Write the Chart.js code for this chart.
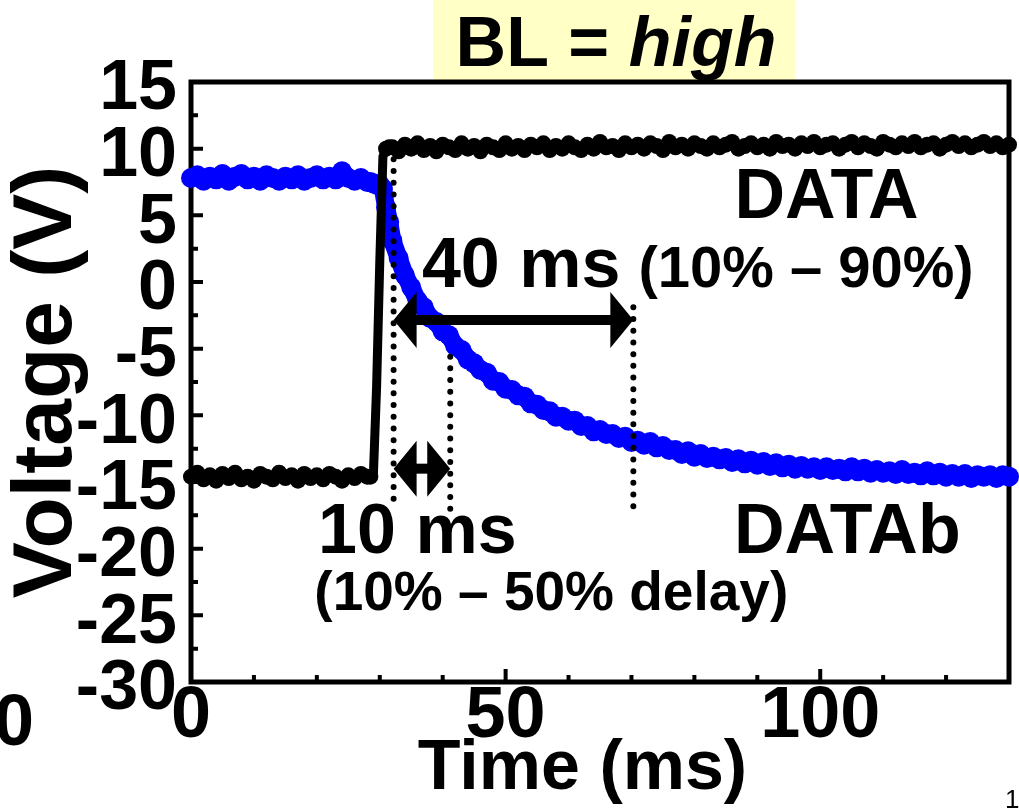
<!DOCTYPE html>
<html>
<head>
<meta charset="utf-8">
<script src="https://cdn.jsdelivr.net/npm/chart.js@4.4.1/dist/chart.umd.min.js"></script>
<style>
  html, body { margin: 0; padding: 0; background: #fff; }
  #wrap { width: 1019px; height: 812px; position: relative; }
</style>
</head>
<body>
<div id="wrap"><canvas id="scope"></canvas></div>
<script>
// sample times (ms)
const timeMs = [
  0, 1, 2, 3, 4, 5, 6, 7, 8, 9, 10, 11, 12, 13, 14, 15, 16, 17, 18, 19, 20, 21, 22, 23, 24, 25, 26, 27, 28,
  28.5, 29, 29.5, 30, 30.5, 31, 31.5,
  32, 33, 34, 35, 36, 37, 38, 39, 40, 41, 42, 43, 44, 45, 46, 47, 48, 49, 50, 51,
  52, 53, 54, 55, 56, 57, 58, 59, 60, 61, 62, 63, 64, 65, 66, 67, 68, 69, 70, 71,
  72, 73, 74, 75, 76, 77, 78, 79, 80, 81, 82, 83, 84, 85, 86, 87, 88, 89, 90, 91,
  92, 93, 94, 95, 96, 97, 98, 99, 100, 101, 102, 103, 104, 105, 106, 107, 108, 109, 110, 111,
  112, 113, 114, 115, 116, 117, 118, 119, 120, 121, 122, 123, 124, 125, 126, 127, 128, 129, 130
];

// DATA (black) voltage
const dataV = [
  -14.6, -14.3, -14.8, -14.5, -14.9, -14.4, -14.7, -14.3, -14.8, -14.6, -14.9, -14.4, -14.6, -14.8, -14.3,
  -14.7, -14.5, -14.9, -14.4, -14.7, -14.5, -14.8, -14.4, -14.6, -14.9, -14.5, -14.7, -14.4, -14.6,
  -14.6, -14.3, -7.8, 1.5, 9.4, 10.0, 10.1,
  10.1, 9.8, 10.3, 10.0, 10.4, 9.9, 10.2, 9.8, 10.3, 10.1,
  9.9, 10.4, 10.0, 10.2, 9.8, 10.3, 10.1, 9.9, 10.4, 10.0,
  10.2, 9.9, 10.3, 10.1, 10.4, 9.9, 10.2, 10.0, 10.4, 10.1,
  9.9, 10.3, 10.0, 10.5, 10.1, 10.2, 9.9, 10.4, 10.1, 10.3,
  10.0, 10.4, 10.2, 9.9, 10.5, 10.1, 10.3, 10.0, 10.4, 10.2,
  10.0, 10.4, 10.1, 10.3, 10.5, 10.0, 10.2, 10.4, 10.1, 10.3,
  10.0, 10.5, 10.2, 10.3, 10.0, 10.4, 10.2, 10.5, 10.1, 10.3,
  10.4, 10.0, 10.3, 10.5, 10.1, 10.4, 10.2, 10.0, 10.5, 10.3,
  10.1, 10.4, 10.2, 10.5, 10.1, 10.3, 10.4, 10.0, 10.3, 10.5,
  10.2, 10.4, 10.1, 10.3, 10.5, 10.2, 10.4, 10.1, 10.3
];

// DATAb (blue) voltage
const dataBV = [
  7.8, 8.0, 7.6, 7.9, 7.7, 8.1, 7.6, 7.9, 8.1, 7.7, 7.9, 7.6, 8.0, 7.8, 7.6,
  7.9, 7.7, 8.0, 7.6, 7.8, 8.0, 7.7, 7.9, 7.7, 8.3, 7.8, 7.6, 7.8, 7.5,
  7.5, 7.4, 7.3, 7.3, 7.0, 5.6, 4.5,
  3.1, 1.8, 0.5, -0.4, -1.4, -1.9, -2.7, -3.0, -3.7, -4.0,
  -4.8, -5.1, -5.8, -6.1, -6.6, -6.8, -7.4, -7.5, -8.0, -8.1,
  -8.5, -8.6, -9.1, -9.2, -9.6, -9.7, -10.1, -10.1, -10.4, -10.4,
  -10.8, -10.8, -11.2, -11.1, -11.4, -11.4, -11.7, -11.6, -12.0, -11.9,
  -12.2, -12.0, -12.4, -12.3, -12.6, -12.6, -12.9, -12.7, -13.1, -12.9,
  -13.2, -13.1, -13.3, -13.2, -13.5, -13.3, -13.6, -13.4, -13.7, -13.5,
  -13.8, -13.6, -13.9, -13.7, -14.0, -13.8, -14.0, -13.9, -14.1, -13.9,
  -14.1, -14.0, -14.2, -13.9, -14.2, -14.0, -14.3, -14.1, -14.3, -14.2,
  -14.4, -14.1, -14.4, -14.3, -14.5, -14.2, -14.5, -14.3, -14.6, -14.4,
  -14.6, -14.4, -14.7, -14.5, -14.6, -14.5, -14.7, -14.5, -14.6
];

// x tick labels shown on the time axis
const timeTickLabels = [0, 50, 100];

// annotation text: [text, x (ms), baseline (V), size, align]
const noteTexts = [
  ['DATA', 101, 4.8, 70, 'center'],
  ['40 ms', 36.7, -0.4, 70, 'left'],
  ['(10% \u2013 90%)', 71.1, -0.4, 58, 'left'],
  ['10 ms', 20.2, -20.3, 70, 'left'],
  ['(10% \u2013 50% delay)', 19.6, -24.6, 55, 'left'],
  ['DATAb', 104.3, -20.3, 70, 'center']
];
// dotted markers: [x (ms), from V, to V]
const dotLines = [[32.2, 9.2, -16.8], [41.2, -5.6, -17.3], [70.3, -1.9, -17.3]];
// double arrows: [from ms, to ms, at V]
const arrows = [[32.2, 70.3, -2.85], [32.2, 41.2, -14.0]];

const FONT = "'Liberation Sans', Arial, sans-serif";

function doubleArrow(ctx, x1, x2, y) {
  const hl = 23, hh = 28, sw = 10;
  ctx.fillStyle = '#000';
  ctx.fillRect(x1 + hl - 1, y - sw / 2, (x2 - x1) - 2 * hl + 2, sw);
  ctx.beginPath();
  ctx.moveTo(x1, y); ctx.lineTo(x1 + hl, y - hh); ctx.lineTo(x1 + hl, y + hh); ctx.closePath();
  ctx.moveTo(x2, y); ctx.lineTo(x2 - hl, y - hh); ctx.lineTo(x2 - hl, y + hh); ctx.closePath();
  ctx.fill();
}

const scopeDecor = {
  id: 'scopeDecor',
  beforeDraw(chart) {
    const ctx = chart.ctx;
    ctx.save();
    ctx.fillStyle = '#fff';
    ctx.fillRect(0, 0, chart.width, chart.height);
    // title box
    ctx.fillStyle = '#FFFFC6';
    ctx.fillRect(433, 0, 362, 84);
    ctx.fillStyle = '#000';
    ctx.textBaseline = 'alphabetic';
    ctx.textAlign = 'left';
    const a = 'BL = ', b = 'high';
    ctx.font = 'bold 70px ' + FONT;
    const wa = ctx.measureText(a).width;
    ctx.font = 'italic bold 70px ' + FONT;
    const wb = ctx.measureText(b).width;
    const x0 = 616 - (wa + wb) / 2;
    ctx.font = 'bold 70px ' + FONT;
    ctx.fillText(a, x0, 66);
    ctx.font = 'italic bold 70px ' + FONT;
    ctx.fillText(b, x0 + wa, 66);
    ctx.restore();
  },
  beforeDatasetsDraw(chart) {
    const {ctx, chartArea: ca, scales: {x, y}} = chart;
    ctx.save();
    ctx.strokeStyle = '#000';
    ctx.lineWidth = 4;
    ctx.beginPath();
    for (let v = -30; v <= 15; v += 2.5) {
      const py = y.getPixelForValue(v);
      const len = (v % 5 === 0) ? 12 : 7;
      ctx.moveTo(ca.left, py); ctx.lineTo(ca.left + len, py);
    }
    for (let t = 10; t < 130; t += 10) {
      const px = x.getPixelForValue(t);
      const len = (t % 50 === 0) ? 13 : 7;
      ctx.moveTo(px, ca.bottom); ctx.lineTo(px, ca.bottom - len);
    }
    ctx.stroke();
    ctx.lineWidth = 5;
    ctx.strokeRect(ca.left, ca.top, ca.right - ca.left, ca.bottom - ca.top);
    ctx.restore();
  },
  afterDatasetsDraw(chart) {
    const {ctx, scales: {x, y}} = chart;
    ctx.save();
    // dotted guides
    ctx.strokeStyle = '#000';
    ctx.lineWidth = 6;
    ctx.lineCap = 'round';
    ctx.setLineDash([0, 11.7]);
    dotLines.forEach(([t, v1, v2]) => {
      const px = x.getPixelForValue(t);
      ctx.beginPath();
      ctx.moveTo(px, y.getPixelForValue(v1));
      ctx.lineTo(px, y.getPixelForValue(v2));
      ctx.stroke();
    });
    ctx.setLineDash([]);
    arrows.forEach(([t1, t2, v]) => {
      doubleArrow(ctx, x.getPixelForValue(t1), x.getPixelForValue(t2), y.getPixelForValue(v));
    });
    ctx.fillStyle = '#000';
    ctx.textBaseline = 'alphabetic';
    noteTexts.forEach(([txt, t, v, size, align]) => {
      ctx.font = 'bold ' + size + 'px ' + FONT;
      ctx.textAlign = align;
      ctx.fillText(txt, x.getPixelForValue(t), y.getPixelForValue(v));
    });
    ctx.restore();
  },
  afterDraw(chart) {
    const ctx = chart.ctx;
    ctx.save();
    // neighbouring panel remnants
    ctx.fillStyle = '#000';
    ctx.textAlign = 'left';
    ctx.textBaseline = 'alphabetic';
    ctx.font = 'bold 72px ' + FONT;
    ctx.fillText('0', -6, 745);
    ctx.font = '26px ' + FONT;
    ctx.fillText('1', 1005, 808);
    ctx.restore();
  }
};

// keep the rising edge of DATA clean (no sample blobs, thinner stroke)
const onEdge = (t) => t >= 29 && t <= 30.5;
const edgeRadius = (c, r) => (onEdge(timeMs[c.dataIndex]) ? 0 : r);

const ctx = document.getElementById('scope').getContext('2d');
new Chart(ctx, {
  type: 'line',
  data: {
    datasets: [
      {
        label: 'DATA',
        data: timeMs.map((t, i) => ({x: t, y: dataV[i]})),
        borderColor: '#000',
        backgroundColor: '#000',
        borderWidth: 12,
        segment: {
          borderWidth: (s) => (timeMs[s.p0DataIndex] >= 28.5 && timeMs[s.p1DataIndex] <= 31 ? 9 : 12)
        },
        pointRadius: (c) => edgeRadius(c, 8),
        pointBorderWidth: 0,
        pointHoverRadius: 0,
        borderJoinStyle: 'round',
        borderCapStyle: 'round',
        clip: false,
        order: 1
      },
      {
        label: 'DATAb',
        data: timeMs.map((t, i) => ({x: t, y: dataBV[i]})),
        borderColor: '#0000ff',
        backgroundColor: '#0000ff',
        borderWidth: 18,
        pointRadius: 10,
        pointBorderWidth: 0,
        pointHoverRadius: 0,
        borderJoinStyle: 'round',
        borderCapStyle: 'round',
        clip: false,
        order: 2
      }
    ]
  },
  plugins: [scopeDecor],
  options: {
    responsive: true,
    maintainAspectRatio: false,
    animation: false,
    layout: { padding: { top: 82, right: 9, left: 0, bottom: 0 } },
    plugins: { legend: { display: false }, tooltip: { enabled: false } },
    scales: {
      x: {
        type: 'linear',
        min: 0, max: 130,
        grid: { display: false, drawTicks: false },
        border: { display: false },
        afterBuildTicks: (scale) => { scale.ticks = timeTickLabels.map(v => ({value: v})); },
        ticks: { autoSkip: false, maxRotation: 0, padding: -8, color: '#000',
                 font: { family: FONT, size: 72, weight: 'bold' } },
        title: { display: true, text: 'Time (ms)\u2002', color: '#000', padding: 0,
                 font: { family: FONT, size: 70, weight: 'bold', lineHeight: 1.2 } },
        afterFit: (scale) => { scale.height = 130; scale.paddingLeft = 0; scale.paddingRight = 0; }
      },
      y: {
        min: -30, max: 15,
        grid: { display: false, drawTicks: false },
        border: { display: false },
        ticks: { stepSize: 5, autoSkip: false, padding: 14, labelOffset: 8, color: '#000',
                 font: { family: FONT, size: 70, weight: 'bold' } },
        title: { display: true, text: 'Voltage (V)', color: '#000', padding: 0,
                 font: { family: FONT, size: 84, weight: 'bold', lineHeight: 1.15 } },
        afterFit: (scale) => { scale.width = 191; scale.paddingTop = 0; scale.paddingBottom = 0; }
      }
    }
  }
});
</script>
</body>
</html>
